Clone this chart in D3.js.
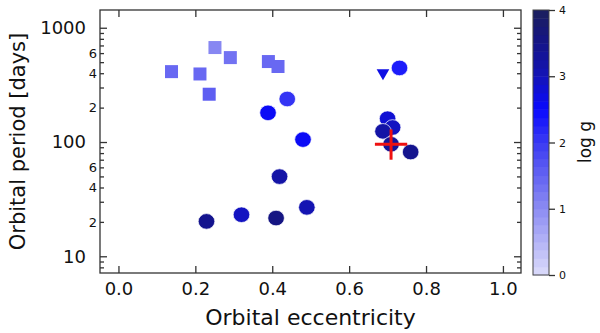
<!DOCTYPE html>
<html lang="en">
  <head>
    <meta charset="UTF-8" />
    <title>orbital period vs eccentricity</title>
    <style>
      body { margin: 0; background: #fff; }
      text { font-family: "DejaVu Sans", sans-serif; fill: #111; }
    </style>
  </head>
  <body>
    <svg id="chart" width="600" height="333"></svg>
    <script src="https://cdn.jsdelivr.net/npm/d3@7"></script>
    <script>
      // squares (low log g)
      const sqEcc = [0.138, 0.212, 0.251, 0.291, 0.236, 0.390, 0.415];
      const sqPer = [413, 394, 671, 548, 262, 506, 458];
      const sqLogg = [1.4, 1.4, 1.0, 1.3, 1.5, 1.4, 1.4];

      // circles
      const ciEcc = [0.439, 0.389, 0.480, 0.419, 0.229, 0.320, 0.410, 0.490, 0.731, 0.700, 0.713, 0.688, 0.709, 0.760];
      const ciPer = [238, 180, 105, 49.8, 20.2, 23.1, 21.6, 26.8, 445, 160, 134, 124, 95.5, 81.7];
      const ciLogg = [2.0, 2.5, 2.6, 3.2, 3.4, 2.9, 3.5, 3.0, 2.3, 2.8, 2.9, 3.2, 3.3, 3.4];

      // triangle (upper limit)
      const trEcc = [0.688];
      const trPer = [402];
      const trLogg = [2.7];

      // red cross with error bars
      const crEcc = 0.709, crEccErr = 0.042;
      const crPer = 95.5, crPerLo = 70, crPerHi = 129;

      const xTicks = [0, 0.2, 0.4, 0.6, 0.8, 1.0];
      const yMajor = [10, 100, 1000];
      const yMinor = [8, 9, 20, 30, 40, 50, 60, 70, 80, 90, 200, 300, 400, 500, 600, 700, 800, 900];
      const yMinorLabels = [20, 40, 60, 200, 400, 600];
      const cbTicks = [0, 1, 2, 3, 4];

      const mLeft = 100, mRight = 521, mTop = 10, mBottom = 273;
      const svg = d3.select('#chart');

      const x = d3.scaleLinear().domain([-0.048, 1.047]).range([mLeft, mRight]);
      const y = d3.scaleLog().domain([7.14, 1430]).range([mBottom, mTop]);

      const color = d3.scaleLinear()
        .domain([0, 1, 2, 2.5, 3, 3.5, 4])
        .range(['#dcdcfa', '#8c8cf2', '#3a3af2', '#0a0aff', '#1414b8', '#141488', '#1c1f5c'])
        .clamp(true);
      // discrete bands like the colour bar
      const nBands = 32;
      function col(v) {
        const b = Math.min(nBands - 1, Math.floor(v / 4 * nBands));
        return color((b + 0.5) * 4 / nBands);
      }

      // frame
      svg.append('rect')
        .attr('x', mLeft).attr('y', mTop)
        .attr('width', mRight - mLeft).attr('height', mBottom - mTop)
        .attr('fill', 'none').attr('stroke', '#333').attr('stroke-width', 1.3);

      function styleAxis(g) {
        g.select('.domain').remove();
        g.selectAll('line').attr('stroke', '#333').attr('stroke-width', 1.3);
      }

      // x axes
      svg.append('g')
        .attr('transform', `translate(0,${mBottom})`)
        .call(d3.axisBottom(x).tickValues(xTicks).tickSize(-7).tickPadding(9).tickFormat(d3.format('.1f')))
        .call(styleAxis)
        .selectAll('text').style('font-size', '18px').attr('fill', '#111');
      svg.append('g')
        .attr('transform', `translate(0,${mTop})`)
        .call(d3.axisTop(x).tickValues(xTicks).tickSize(-7).tickFormat(''))
        .call(styleAxis);

      // y axes
      svg.append('g')
        .attr('transform', `translate(${mLeft},0)`)
        .call(d3.axisLeft(y).tickValues(yMajor).tickSize(-7).tickPadding(14).tickFormat(d3.format('d')))
        .call(styleAxis)
        .selectAll('text').style('font-size', '18px').attr('fill', '#111');
      svg.append('g')
        .attr('transform', `translate(${mLeft},0)`)
        .call(d3.axisLeft(y).tickValues(yMinor).tickSize(-4).tickPadding(3)
          .tickFormat(d => yMinorLabels.includes(d) ? String(d).charAt(0) : ''))
        .call(styleAxis)
        .selectAll('text').style('font-size', '13px').attr('fill', '#111');
      svg.append('g')
        .attr('transform', `translate(${mRight},0)`)
        .call(d3.axisRight(y).tickValues(yMajor).tickSize(-7).tickFormat(''))
        .call(styleAxis);
      svg.append('g')
        .attr('transform', `translate(${mRight},0)`)
        .call(d3.axisRight(y).tickValues(yMinor).tickSize(-4).tickFormat(''))
        .call(styleAxis);

      // axis titles
      svg.append('text')
        .attr('x', (mLeft + mRight) / 2).attr('y', 325)
        .attr('text-anchor', 'middle')
        .style('font-size', '22px')
        .text('Orbital eccentricity');
      svg.append('text')
        .attr('transform', `translate(25,${(mTop + mBottom) / 2}) rotate(-90)`)
        .attr('text-anchor', 'middle')
        .style('font-size', '21px')
        .text('Orbital period [days]');

      // markers
      const plot = svg.append('g');
      plot.selectAll('rect.sq')
        .data(d3.range(sqEcc.length))
        .join('rect')
        .attr('class', 'sq')
        .attr('x', i => x(sqEcc[i]) - 6.5)
        .attr('y', i => y(sqPer[i]) - 6.5)
        .attr('width', 13).attr('height', 13)
        .attr('fill', i => col(sqLogg[i]));

      plot.selectAll('ellipse.ci')
        .data(d3.range(ciEcc.length))
        .join('ellipse')
        .attr('class', 'ci')
        .attr('cx', i => x(ciEcc[i]))
        .attr('cy', i => y(ciPer[i]))
        .attr('rx', 8.3).attr('ry', 7.8)
        .attr('fill', i => col(ciLogg[i]))
        .attr('stroke', '#fff').attr('stroke-width', 0.7);

      plot.selectAll('path.tr')
        .data(d3.range(trEcc.length))
        .join('path')
        .attr('class', 'tr')
        .attr('transform', i => `translate(${x(trEcc[i])},${y(trPer[i])}) rotate(180)`)
        .attr('d', d3.symbol(d3.symbolTriangle, 70))
        .attr('fill', i => col(trLogg[i]));

      // red cross
      const cross = plot.append('g').attr('stroke', '#ee1111').attr('stroke-width', 3);
      cross.append('line')
        .attr('x1', x(crEcc - crEccErr)).attr('x2', x(crEcc + crEccErr))
        .attr('y1', y(crPer)).attr('y2', y(crPer));
      cross.append('line')
        .attr('x1', x(crEcc)).attr('x2', x(crEcc))
        .attr('y1', y(crPerLo)).attr('y2', y(crPerHi));

      // colour bar
      const cbX = 533, cbW = 16;
      const cy = d3.scaleLinear().domain([0, 4]).range([275, 10]);
      const bands = d3.range(nBands).map(i => i * 4 / nBands);
      svg.append('g').selectAll('rect')
        .data(bands)
        .join('rect')
        .attr('x', cbX)
        .attr('y', d => cy(d + 4 / nBands))
        .attr('width', cbW)
        .attr('height', d => cy(d) - cy(d + 4 / nBands) + 0.5)
        .attr('fill', d => color(d + 2 / nBands));
      svg.append('rect')
        .attr('x', cbX).attr('y', cy(4))
        .attr('width', cbW).attr('height', cy(0) - cy(4))
        .attr('fill', 'none').attr('stroke', '#444').attr('stroke-width', 1);
      svg.append('g')
        .attr('transform', `translate(${cbX + cbW},0)`)
        .call(d3.axisRight(cy).tickValues(cbTicks).tickSize(6).tickPadding(4).tickFormat(d3.format('d')))
        .call(styleAxis)
        .selectAll('text').style('font-size', '11px').attr('fill', '#111');
      svg.append('text')
        .attr('transform', 'translate(591,142) rotate(-90)')
        .attr('text-anchor', 'middle')
        .style('font-size', '17px')
        .text('log g');
    </script>
  </body>
</html>
